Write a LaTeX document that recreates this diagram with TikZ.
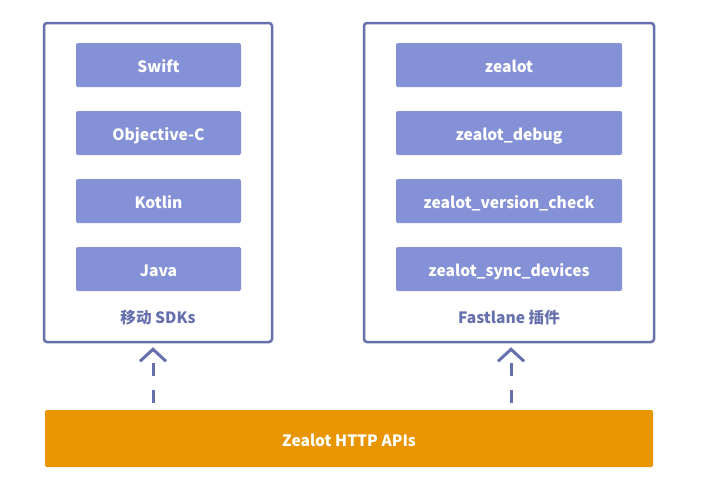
\documentclass[tikz,border=0pt]{standalone}
\usepackage{fontspec}
\setmainfont{Noto Sans CJK SC}
\usetikzlibrary{arrows.meta}

\definecolor{boxline}{HTML}{6570AD}
\definecolor{itemfill}{HTML}{8591D7}
\definecolor{apifill}{HTML}{E89500}

\begin{document}
\begin{tikzpicture}[x=1pt, y=-1pt,
    group/.style={draw=boxline, line width=2.5pt, rounded corners=3pt, minimum height=319pt},
    item/.style={fill=itemfill, rounded corners=2pt, minimum height=44pt, text height=17pt, text depth=2pt, text=white, font=\fontsize{15.6}{18}\selectfont\bfseries},
    caption/.style={text=boxline, font=\fontsize{15.6}{18}\selectfont\bfseries},
    dep/.style={draw=boxline, line width=3pt, dash pattern=on 13pt off 14pt, -{Straight Barb[length=12pt, width=26pt]}}]
    \useasboundingbox (0, 0) rectangle (708, 499);

    % outer groups
    \node[group, minimum width=228pt] (sdk) at (158, 182.5) {};
    \node[group, minimum width=290pt] (plugin) at (509, 182.5) {};

    \foreach \name/\txt [count=\i] in {swift/Swift, objc/Objective-C, kotlin/Kotlin, java/Java} {
        \node[item, minimum width=165pt] (\name) at (158.5, {65 + 68*(\i - 1)}) {\txt};
    }
    \foreach \name/\txt [count=\i] in {zealot/zealot, debug/zealot\_debug, vcheck/zealot\_version\_check, sync/zealot\_sync\_devices} {
        \node[item, minimum width=226pt] (\name) at (509, {65 + 68*(\i - 1)}) {\txt};
    }

    \node[caption] (sdklabel) at (158, 318) {移动 SDKs};
    \node[caption] (pluginlabel) at (509, 318) {Fastlane 插件};

    % api bar
    \node[fill=apifill, rounded corners=2pt, minimum width=608pt, minimum height=57pt, text height=17pt, text depth=2pt, text=white, font=\fontsize{15.6}{18}\selectfont\bfseries] (api) at (349, 438.5) {Zealot HTTP APIs};

    \coordinate (sdkin) at (153, 0);
    \coordinate (pluginin) at (511, 0);
    \draw[dep] ([yshift=7pt]api.north -| sdkin) -- ([yshift=-4pt]sdk.south -| sdkin);
    \draw[dep] ([yshift=7pt]api.north -| pluginin) -- ([yshift=-4pt]plugin.south -| pluginin);
\end{tikzpicture}
\end{document}
